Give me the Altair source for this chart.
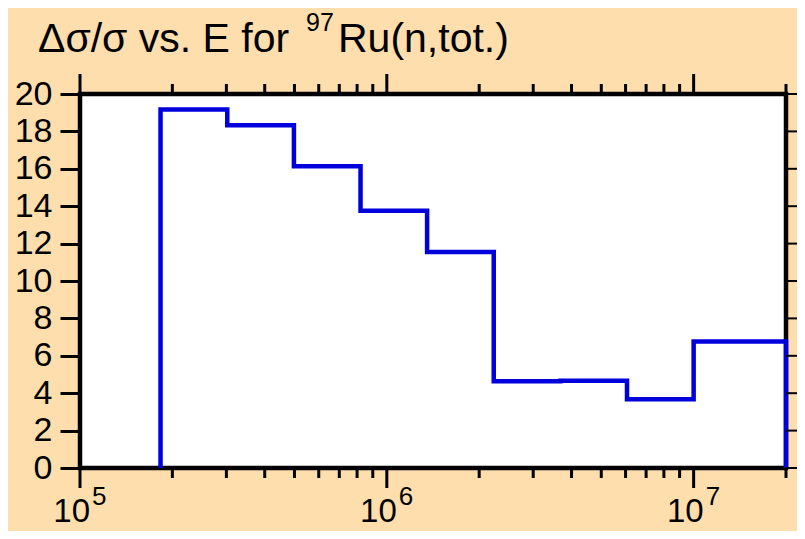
import altair as alt
import pandas as pd

# ---- data ----
edges = [1.83e5, 3.02e5, 4.98e5, 8.21e5, 1.353e6, 2.231e6, 3.679e6, 6.065e6, 1.0e7, 2.0e7]
values = [19.17, 18.33, 16.14, 13.76, 11.55, 4.64, 4.67, 3.67, 6.77]

y_ticks = [0, 2, 4, 6, 8, 10, 12, 14, 16, 18, 20]
x_major = [1e5, 1e6, 1e7]
x_minor = [2e5, 3e5, 4e5, 5e5, 6e5, 7e5, 8e5, 9e5,
           2e6, 3e6, 4e6, 5e6, 6e6, 7e6, 8e6, 9e6, 2e7]
x_base = ["10", "10", "10"]
x_exp = ["5", "6", "7"]

title_main = ["Δσ/σ vs. E for"]
title_sup = ["97"]
title_rest = ["Ru(n,tot.)"]

FONT = "Liberation Sans"
BLUE = "#0000dd"
W, H = 706, 374

# step path: up from zero, steps, down to zero at the end
E = [edges[0]] + edges[:-1] + [edges[-1], edges[-1]]
V = [0] + values + [values[-1], 0]
df_line = pd.DataFrame({"E": E, "v": V, "o": list(range(len(E)))})

xscale = alt.Scale(type="log", domain=[1e5, 2e7], nice=False)
yscale = alt.Scale(domain=[0, 20], nice=False)
yaxis = alt.Axis(
    values=y_ticks, tickSize=20, tickWidth=3, tickColor="black",
    labelFontSize=34, labelFont=FONT, labelColor="black",
    labelPadding=8, domain=False, grid=False, title=None)

line = alt.Chart(df_line).mark_line(
    interpolate="step-after", color=BLUE, strokeWidth=4.5
).encode(
    x=alt.X("E:Q", scale=xscale, axis=None),
    y=alt.Y("v:Q", scale=yscale, axis=yaxis),
    order="o:Q",
)

df_y = pd.DataFrame({"t": y_ticks})
right_ticks = alt.Chart(df_y).mark_rule(color="black", strokeWidth=2).encode(
    y=alt.Y("t:Q", scale=yscale, axis=yaxis),
    x=alt.value(W), x2=alt.value(W + 25),
)

df_major = pd.DataFrame({"t": x_major, "b": x_base, "e": x_exp})
df_minor = pd.DataFrame({"t": x_minor})

def xt(df, y0, y1, w=3):
    return alt.Chart(df).mark_rule(color="black", strokeWidth=w).encode(
        x=alt.X("t:Q", scale=xscale, axis=None),
        y=alt.value(y0), y2=alt.value(y1),
    )

bot_major = xt(df_major, H, H + 20)
bot_minor = xt(df_minor, H, H + 10)
top_major = xt(df_major, 0, -20)
top_minor = xt(df_minor, 0, -10)

lab_base = alt.Chart(df_major).mark_text(
    align="right", dx=10, baseline="alphabetic", fontSize=33, font=FONT, color="black"
).encode(x=alt.X("t:Q", scale=xscale, axis=None), y=alt.value(428), text="b:N")

lab_exp = alt.Chart(df_major).mark_text(
    align="left", dx=12, baseline="alphabetic", fontSize=26, font=FONT, color="black"
).encode(x=alt.X("t:Q", scale=xscale, axis=None), y=alt.value(411), text="e:N")

def txt(lst, x, y, size):
    return alt.Chart(pd.DataFrame({"s": lst})).mark_text(
        align="left", baseline="alphabetic", fontSize=size, font=FONT, color="black"
    ).encode(x=alt.value(x), y=alt.value(y), text="s:N")

t1 = txt(title_main, -42, -42, 41)
t2 = txt(title_sup, 226, -63, 25)
t3 = txt(title_rest, 258, -42, 41)

chart = alt.layer(
    line, right_ticks, bot_major, bot_minor, top_major, top_minor,
    lab_base, lab_exp, t1, t2, t3
).properties(
    width=W, height=H,
    autosize=alt.AutoSizeParams(type="none"),
    padding={"left": 72, "top": 86, "right": 11, "bottom": 63},
    background="#FFDEAD",
).configure_view(
    fill="white", stroke="black", strokeWidth=4.5
)

chart.save("out.html", embed_options={"renderer": "svg", "actions": False})
